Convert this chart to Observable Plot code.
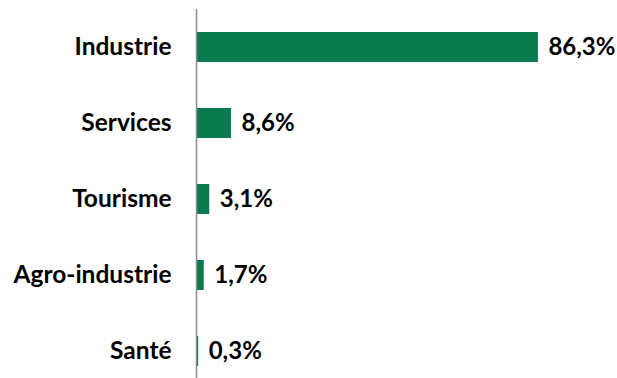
<!DOCTYPE html>
<html>
<head>
<meta charset="utf-8">
<script src="https://cdn.jsdelivr.net/npm/d3@7"></script>
<script src="https://cdn.jsdelivr.net/npm/@observablehq/plot@0.6"></script>
<style>
  html, body { margin: 0; padding: 0; background: #fff; }
  #chart svg { display: block; }
</style>
</head>
<body>
<div id="chart"></div>
<script>
const categories = ["Industrie", "Services", "Tourisme", "Agro-industrie", "Santé"];
const values = [86.3, 8.6, 3.1, 1.7, 0.3];
const valueLabels = ["86,3%", "8,6%", "3,1%", "1,7%", "0,3%"];

const data = categories.map((c, i) => ({category: c, value: values[i], label: valueLabels[i]}));

const chart = Plot.plot({
  width: 617,
  height: 378,
  marginTop: 9,
  marginBottom: 0,
  marginLeft: 197,
  marginRight: 25,
  style: {fontFamily: "Lato, sans-serif", fontWeight: "bold", fontSize: "24.5px", color: "#000"},
  x: {domain: [0, 100], axis: null},
  y: {domain: categories, paddingInner: 0.6, paddingOuter: 0.212, align: 0.66, label: null, tickSize: 0, tickPadding: 26},
  marks: [
    Plot.barX(data, {x: "value", y: "category", fill: "#087A4E"}),
    Plot.ruleX([0], {stroke: "#8c8c8c", strokeWidth: 1.5, dx: -1}),
    Plot.text(data, {x: "value", y: "category", text: "label", textAnchor: "start", dx: 10, fill: "#000", fontSize: 24, fontWeight: "bold"})
  ]
});
chart.querySelectorAll("[aria-label='y-axis tick label'] text").forEach(t => { t.setAttribute("fill", "#000"); });
document.getElementById("chart").appendChild(chart);
</script>
</body>
</html>
